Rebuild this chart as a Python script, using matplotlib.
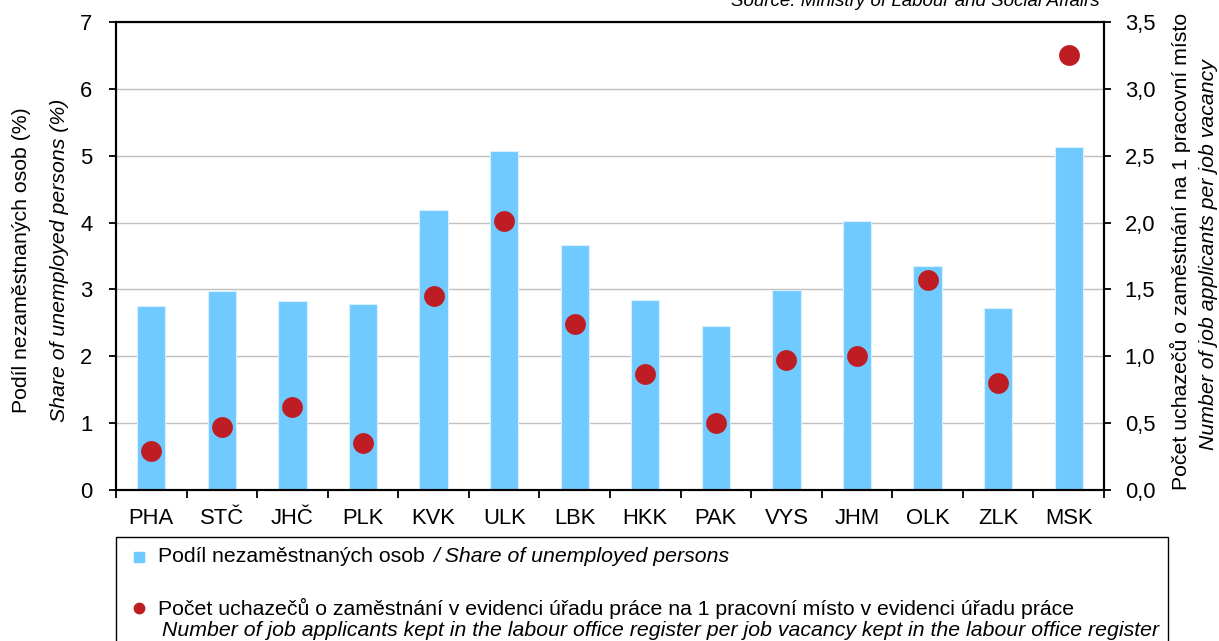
import matplotlib
matplotlib.use("Agg")
import matplotlib.pyplot as plt
from matplotlib.patches import Rectangle
from matplotlib.lines import Line2D
from matplotlib.ticker import FuncFormatter, MultipleLocator
import numpy as np

regions = ["PHA", "STČ", "JHČ", "PLK", "KVK", "ULK", "LBK", "HKK", "PAK", "VYS", "JHM", "OLK", "ZLK", "MSK"]
unemployed_share = [2.75, 2.98, 2.82, 2.78, 4.19, 5.07, 3.66, 2.84, 2.45, 2.99, 4.02, 3.35, 2.72, 5.13]
applicants_per_vacancy = [0.29, 0.47, 0.62, 0.35, 1.45, 2.01, 1.24, 0.87, 0.50, 0.97, 1.00, 1.57, 0.80, 3.25]

BAR_C = "#71CAFF"
DOT_C = "#BE1E23"
FONT = "Liberation Sans"
plt.rcParams["font.family"] = [FONT, "DejaVu Sans"]
FS_TICK = 15.8
FS = 15.3

W, H = 1219, 641
fig = plt.figure(figsize=(W / 100, H / 100), dpi=100)

def fx(px):
    return px / W

def fy(py):
    return 1 - py / H

ax = fig.add_axes([fx(116), fy(490), fx(1104) - fx(116), fy(22) - fy(490)])
x = np.arange(len(regions))
ax.bar(x, unemployed_share, width=0.4, color=BAR_C, edgecolor="#d8f0ff", linewidth=0.8, zorder=2)
ax.set_xlim(-0.5, len(regions) - 0.5)
ax.set_ylim(0, 7)
ax.yaxis.set_major_locator(MultipleLocator(1))
ax.grid(axis="y", color="#c0c0c0", linewidth=1.0, zorder=0)
ax.set_axisbelow(True)
ax.set_xticks(x)
ax.set_xticklabels(regions, fontsize=FS_TICK)
ax.tick_params(axis="x", which="major", length=0, pad=13)
ax.set_xticks(np.arange(-0.5, len(regions) + 0.5, 1), minor=True)
ax.tick_params(axis="x", which="minor", length=6, width=1.3, direction="out")
ax.tick_params(axis="y", labelsize=FS_TICK, length=5, width=1.3, direction="out", pad=12)
for s in ax.spines.values():
    s.set_linewidth(1.5)
    s.set_color("black")

ax2 = ax.twinx()
ax2.plot(x, applicants_per_vacancy, linestyle="none", marker="o", markersize=15,
         color=DOT_C, markeredgewidth=0, zorder=3)
ax2.set_ylim(0, 3.5)
ax2.yaxis.set_major_locator(MultipleLocator(0.5))
ax2.yaxis.set_major_formatter(FuncFormatter(lambda v, p: f"{v:.1f}".replace(".", ",")))
ax2.tick_params(axis="y", labelsize=FS_TICK, length=5, width=1.3, direction="out", pad=10)
for s in ax2.spines.values():
    s.set_linewidth(1.5)
    s.set_color("black")

# axis titles
fig.text(fx(22), fy(260), "Podíl nezaměstnaných osob (%)", rotation=90,
         ha="center", va="center", fontsize=FS)
fig.text(fx(60), fy(260), "Share of unemployed persons (%)", rotation=90,
         ha="center", va="center", fontsize=FS, style="italic")
fig.text(fx(1180), fy(251), "Počet uchazečů o zaměstnání na 1 pracovní místo", rotation=90,
         ha="center", va="center", fontsize=FS)
fig.text(fx(1209), fy(255), "Number of job applicants per job vacancy", rotation=90,
         ha="center", va="center", fontsize=FS, style="italic")

# source
fig.text(fx(1100), fy(6), "Source: Ministry of Labour and Social Affairs",
         ha="right", va="baseline", fontsize=13.5, style="italic")

# legend box
fig.add_artist(Rectangle((fx(116), fy(680)), fx(1168) - fx(116), fy(537) - fy(680),
                         transform=fig.transFigure, facecolor="white", edgecolor="black",
                         linewidth=1.0))
fig.add_artist(Line2D([fx(139)], [fy(557)], transform=fig.transFigure, marker="s",
                      markersize=7.5, color=BAR_C, linestyle="none"))
fig.add_artist(Line2D([fx(139)], [fy(608)], transform=fig.transFigure, marker="o",
                      markersize=7.5, color=DOT_C, linestyle="none"))

t1 = fig.text(fx(158), fy(557), "Podíl nezaměstnaných osob ", ha="left", va="center", fontsize=FS)
fig.canvas.draw()
r = fig.canvas.get_renderer()
bb = t1.get_window_extent(r)
fig.text(bb.x1 / W + fx(3), fy(557), "/ Share of unemployed persons", ha="left", va="center",
         fontsize=FS, style="italic")
fig.text(fx(158), fy(608), "Počet uchazečů o zaměstnání v evidenci úřadu práce na 1 pracovní místo v evidenci úřadu práce",
         ha="left", va="center", fontsize=FS)
fig.text(fx(162), fy(631), "Number of job applicants kept in the labour office register per job vacancy kept in the labour office register",
         ha="left", va="center", fontsize=FS, style="italic")

fig.savefig("out.png", dpi=100)
